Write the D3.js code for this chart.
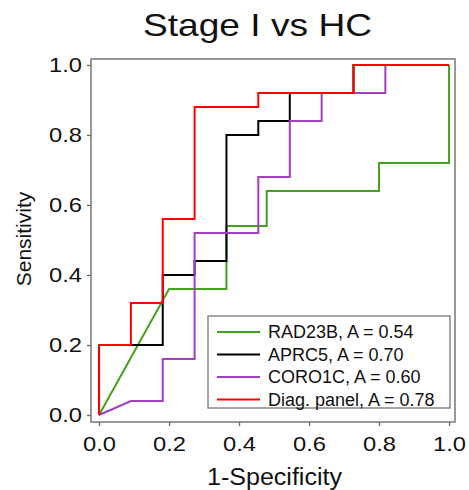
<!DOCTYPE html>
<html>
<head>
<meta charset="utf-8">
<script src="https://cdn.jsdelivr.net/npm/d3@7"></script>
<style>
  body { margin: 0; background: #fff; }
  text { font-family: "Liberation Sans", Arial, sans-serif; fill: #111; }
</style>
</head>
<body>
<main></main>
<script>
// ROC points (1-specificity, sensitivity)
const rad23bX = [0, 0.2, 0.364, 0.364, 0.479, 0.479, 0.8, 0.8, 1, 1];
const rad23bY = [0, 0.36, 0.36, 0.54, 0.54, 0.64, 0.64, 0.72, 0.72, 1];

const aprc5X = [0, 0, 0.182, 0.182, 0.273, 0.273, 0.364, 0.364, 0.455, 0.455, 0.545, 0.545, 0.727, 0.727, 1];
const aprc5Y = [0, 0.2, 0.2, 0.4, 0.4, 0.44, 0.44, 0.8, 0.8, 0.84, 0.84, 0.92, 0.92, 1, 1];

const coro1cX = [0, 0.091, 0.182, 0.182, 0.273, 0.273, 0.455, 0.455, 0.545, 0.545, 0.636, 0.636, 0.818, 0.818, 1];
const coro1cY = [0, 0.04, 0.04, 0.16, 0.16, 0.52, 0.52, 0.68, 0.68, 0.84, 0.84, 0.92, 0.92, 1, 1];

const panelX = [0, 0, 0.091, 0.091, 0.182, 0.182, 0.273, 0.273, 0.455, 0.455, 0.727, 0.727, 1];
const panelY = [0, 0.2, 0.2, 0.32, 0.32, 0.56, 0.56, 0.88, 0.88, 0.92, 0.92, 1, 1];

const seriesNames = ["RAD23B, A = 0.54", "APRC5, A = 0.70", "CORO1C, A = 0.60", "Diag. panel, A = 0.78"];
const seriesColors = ["#45a01e", "#000000", "#a13fbf", "#ff0000"];
const ticks = [0, 0.2, 0.4, 0.6, 0.8, 1.0];

const series = [
  { xs: rad23bX, ys: rad23bY },
  { xs: aprc5X, ys: aprc5Y },
  { xs: coro1cX, ys: coro1cY },
  { xs: panelX, ys: panelY }
];

const W = 469, H = 490;
const margin = { left: 91, top: 59 };
const w = 364, h = 363;

const svg = d3.select("main").append("svg")
  .attr("width", W).attr("height", H);

const g = svg.append("g")
  .attr("transform", `translate(${margin.left},${margin.top})`);

const x = d3.scaleLinear().domain([-0.023, 1.017]).range([0, w]);
const y = d3.scaleLinear().domain([-0.02, 1.017]).range([h, 0]);

// title (the source text is a bit wider than Liberation Sans)
svg.append("text")
  .attr("x", 257.5).attr("y", 36)
  .attr("text-anchor", "middle")
  .attr("textLength", 229)
  .attr("lengthAdjust", "spacingAndGlyphs")
  .style("font-size", "32px")
  .text("Stage I vs HC");

// axes
const xAxis = g.append("g")
  .attr("transform", `translate(0,${h})`)
  .call(d3.axisBottom(x).tickValues(ticks).tickFormat(d3.format(".1f")).tickSize(4).tickPadding(10));
const yAxis = g.append("g")
  .call(d3.axisLeft(y).tickValues(ticks).tickFormat(d3.format(".1f")).tickSize(4).tickPadding(5));

[xAxis, yAxis].forEach(a => {
  a.select(".domain").remove();
  a.selectAll("line").attr("stroke", "#666").attr("stroke-width", 1.3);
  a.selectAll("text")
    .style("font-size", "21px")
    .attr("fill", "#111")
    .attr("textLength", 33)
    .attr("lengthAdjust", "spacingAndGlyphs");
});

// frame
g.append("rect")
  .attr("x", 0).attr("y", 0).attr("width", w).attr("height", h)
  .attr("fill", "none").attr("stroke", "#777").attr("stroke-width", 1.5);

// axis labels
svg.append("text")
  .attr("x", 274.5).attr("y", 485)
  .attr("text-anchor", "middle")
  .attr("textLength", 135)
  .attr("lengthAdjust", "spacingAndGlyphs")
  .style("font-size", "23px")
  .text("1-Specificity");

svg.append("text")
  .attr("transform", "translate(31,239) rotate(-90)")
  .attr("text-anchor", "middle")
  .style("font-size", "21px")
  .text("Sensitivity");

// ROC lines
const line = d3.line().x(d => x(d[0])).y(d => y(d[1]));
series.forEach((s, i) => {
  const pts = s.xs.map((v, j) => [v, s.ys[j]]);
  g.append("path")
    .datum(pts)
    .attr("fill", "none")
    .attr("stroke", seriesColors[i])
    .attr("stroke-width", 2)
    .attr("d", line);
});

// legend
const lg = svg.append("g").attr("transform", "translate(208,316)");
lg.append("rect")
  .attr("width", 242).attr("height", 92)
  .attr("fill", "#fff").attr("stroke", "#777").attr("stroke-width", 1.3);
seriesNames.forEach((name, i) => {
  const yy = 16 + i * 22.5;
  lg.append("line")
    .attr("x1", 9).attr("x2", 52).attr("y1", yy).attr("y2", yy)
    .attr("stroke", seriesColors[i]).attr("stroke-width", 2);
  lg.append("text")
    .attr("x", 60).attr("y", yy)
    .attr("dy", "0.35em")
    .style("font-size", "18px")
    .text(name);
});
</script>
</body>
</html>
